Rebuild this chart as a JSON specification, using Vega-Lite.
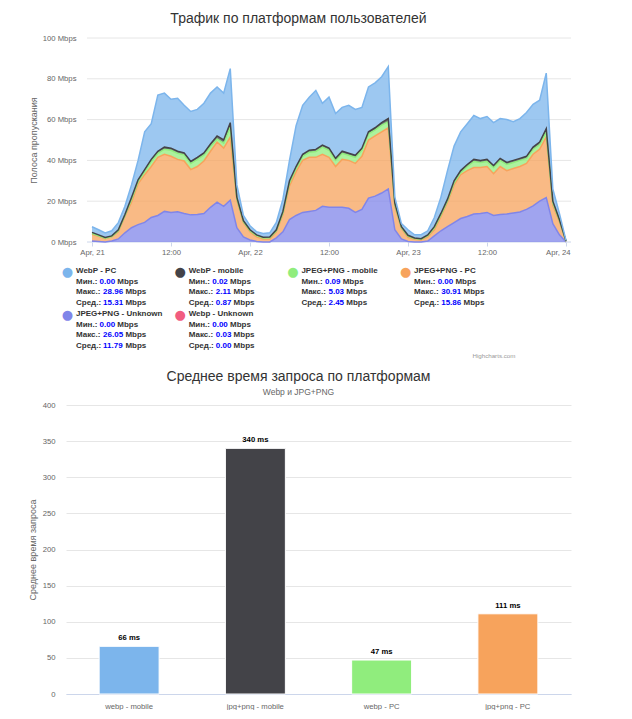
{
"$schema": "https://vega.github.io/schema/vega-lite/v6.json",
"background": "white",
"padding": {"left": 28, "top": 12, "right": 5, "bottom": 0},
"spacing": 9,
"resolve": {"scale": {"color": "independent"}},
"config": {
  "font": "Liberation Sans",
  "view": {"stroke": null},
  "axis": {"labelFont": "Liberation Sans", "labelFontSize": 7.7, "labelColor": "#666666", "titleFont": "Liberation Sans", "titleFontSize": 9, "titleColor": "#666666", "titleFontWeight": "normal", "gridColor": "#e6e6e6"},
  "title": {"font": "Liberation Sans", "color": "#333333", "fontWeight": "normal"}
},
"datasets": {
"traffic": [
{"h":0,"s":"s5","v":0.5},{"h":0,"s":"s4","v":3.3},{"h":0,"s":"s3","v":0.4},{"h":0,"s":"s2","v":0.5},{"h":0,"s":"s1","v":2.8},
{"h":1,"s":"s5","v":0.3},{"h":1,"s":"s4","v":2.5},{"h":1,"s":"s3","v":0.3},{"h":1,"s":"s2","v":0.4},{"h":1,"s":"s1","v":2.5},
{"h":2,"s":"s5","v":0},{"h":2,"s":"s4","v":1.6},{"h":2,"s":"s3","v":0.3},{"h":2,"s":"s2","v":0.3},{"h":2,"s":"s1","v":2.2},
{"h":3,"s":"s5","v":0.5},{"h":3,"s":"s4","v":2},{"h":3,"s":"s3","v":0.2},{"h":3,"s":"s2","v":0.3},{"h":3,"s":"s1","v":2.5},
{"h":4,"s":"s5","v":1.5},{"h":4,"s":"s4","v":3.5},{"h":4,"s":"s3","v":0.5},{"h":4,"s":"s2","v":0.5},{"h":4,"s":"s1","v":3.5},
{"h":5,"s":"s5","v":4.5},{"h":5,"s":"s4","v":8},{"h":5,"s":"s3","v":0.5},{"h":5,"s":"s2","v":0.5},{"h":5,"s":"s1","v":4},
{"h":6,"s":"s5","v":7},{"h":6,"s":"s4","v":12.5},{"h":6,"s":"s3","v":1.3},{"h":6,"s":"s2","v":1},{"h":6,"s":"s1","v":6.2},
{"h":7,"s":"s5","v":8.5},{"h":7,"s":"s4","v":20},{"h":7,"s":"s3","v":1.2},{"h":7,"s":"s2","v":0.8},{"h":7,"s":"s1","v":9.5},
{"h":8,"s":"s5","v":9.6},{"h":8,"s":"s4","v":23.4},{"h":8,"s":"s3","v":1.5},{"h":8,"s":"s2","v":1},{"h":8,"s":"s1","v":18.5},
{"h":9,"s":"s5","v":12},{"h":9,"s":"s4","v":25},{"h":9,"s":"s3","v":2.5},{"h":9,"s":"s2","v":1},{"h":9,"s":"s1","v":17.5},
{"h":10,"s":"s5","v":13},{"h":10,"s":"s4","v":28.5},{"h":10,"s":"s3","v":2},{"h":10,"s":"s2","v":1},{"h":10,"s":"s1","v":27.5},
{"h":11,"s":"s5","v":15},{"h":11,"s":"s4","v":28},{"h":11,"s":"s3","v":2.5},{"h":11,"s":"s2","v":1},{"h":11,"s":"s1","v":26.5},
{"h":12,"s":"s5","v":14.5},{"h":12,"s":"s4","v":27.5},{"h":12,"s":"s3","v":3},{"h":12,"s":"s2","v":1},{"h":12,"s":"s1","v":24},
{"h":13,"s":"s5","v":14.8},{"h":13,"s":"s4","v":25.7},{"h":13,"s":"s3","v":3},{"h":13,"s":"s2","v":1},{"h":13,"s":"s1","v":26},
{"h":14,"s":"s5","v":14},{"h":14,"s":"s4","v":25.7},{"h":14,"s":"s3","v":3},{"h":14,"s":"s2","v":1},{"h":14,"s":"s1","v":23.3},
{"h":15,"s":"s5","v":13.3},{"h":15,"s":"s4","v":22.2},{"h":15,"s":"s3","v":3},{"h":15,"s":"s2","v":1},{"h":15,"s":"s1","v":24.5},
{"h":16,"s":"s5","v":13.5},{"h":16,"s":"s4","v":23.5},{"h":16,"s":"s3","v":3.5},{"h":16,"s":"s2","v":1},{"h":16,"s":"s1","v":23.5},
{"h":17,"s":"s5","v":14},{"h":17,"s":"s4","v":25.7},{"h":17,"s":"s3","v":3},{"h":17,"s":"s2","v":1},{"h":17,"s":"s1","v":24.3},
{"h":18,"s":"s5","v":17},{"h":18,"s":"s4","v":27.5},{"h":18,"s":"s3","v":2.5},{"h":18,"s":"s2","v":1},{"h":18,"s":"s1","v":25},
{"h":19,"s":"s5","v":19.5},{"h":19,"s":"s4","v":29.5},{"h":19,"s":"s3","v":1.5},{"h":19,"s":"s2","v":1.5},{"h":19,"s":"s1","v":24},
{"h":20,"s":"s5","v":17.5},{"h":20,"s":"s4","v":28.5},{"h":20,"s":"s3","v":2.5},{"h":20,"s":"s2","v":1.5},{"h":20,"s":"s1","v":23},
{"h":21,"s":"s5","v":20.5},{"h":21,"s":"s4","v":30.9},{"h":21,"s":"s3","v":5},{"h":21,"s":"s2","v":2.1},{"h":21,"s":"s1","v":26.5},
{"h":22,"s":"s5","v":7},{"h":22,"s":"s4","v":13.5},{"h":22,"s":"s3","v":0.8},{"h":22,"s":"s2","v":0.7},{"h":22,"s":"s1","v":6},
{"h":23,"s":"s5","v":2.5},{"h":23,"s":"s4","v":7},{"h":23,"s":"s3","v":0.5},{"h":23,"s":"s2","v":0.5},{"h":23,"s":"s1","v":2.5},
{"h":24,"s":"s5","v":1},{"h":24,"s":"s4","v":4},{"h":24,"s":"s3","v":0.5},{"h":24,"s":"s2","v":0.5},{"h":24,"s":"s1","v":2},
{"h":25,"s":"s5","v":0.3},{"h":25,"s":"s4","v":2.2},{"h":25,"s":"s3","v":0.6},{"h":25,"s":"s2","v":0.4},{"h":25,"s":"s1","v":1.5},
{"h":26,"s":"s5","v":0},{"h":26,"s":"s4","v":1.5},{"h":26,"s":"s3","v":0.5},{"h":26,"s":"s2","v":0.3},{"h":26,"s":"s1","v":1.9},
{"h":27,"s":"s5","v":0},{"h":27,"s":"s4","v":1.5},{"h":27,"s":"s3","v":0.6},{"h":27,"s":"s2","v":0.4},{"h":27,"s":"s1","v":2},
{"h":28,"s":"s5","v":2},{"h":28,"s":"s4","v":3},{"h":28,"s":"s3","v":0.5},{"h":28,"s":"s2","v":0.5},{"h":28,"s":"s1","v":3.6},
{"h":29,"s":"s5","v":5},{"h":29,"s":"s4","v":8.5},{"h":29,"s":"s3","v":0.8},{"h":29,"s":"s2","v":0.7},{"h":29,"s":"s1","v":6},
{"h":30,"s":"s5","v":11},{"h":30,"s":"s4","v":16.5},{"h":30,"s":"s3","v":1.5},{"h":30,"s":"s2","v":1},{"h":30,"s":"s1","v":10},
{"h":31,"s":"s5","v":13},{"h":31,"s":"s4","v":21.5},{"h":31,"s":"s3","v":1.5},{"h":31,"s":"s2","v":1},{"h":31,"s":"s1","v":20},
{"h":32,"s":"s5","v":14.5},{"h":32,"s":"s4","v":25.5},{"h":32,"s":"s3","v":2},{"h":32,"s":"s2","v":1},{"h":32,"s":"s1","v":24},
{"h":33,"s":"s5","v":15},{"h":33,"s":"s4","v":26.5},{"h":33,"s":"s3","v":2.5},{"h":33,"s":"s2","v":1},{"h":33,"s":"s1","v":26},
{"h":34,"s":"s5","v":15.5},{"h":34,"s":"s4","v":26},{"h":34,"s":"s3","v":2.9},{"h":34,"s":"s2","v":1},{"h":34,"s":"s1","v":28.9},
{"h":35,"s":"s5","v":17.5},{"h":35,"s":"s4","v":25.5},{"h":35,"s":"s3","v":3.5},{"h":35,"s":"s2","v":1},{"h":35,"s":"s1","v":20.5},
{"h":36,"s":"s5","v":17},{"h":36,"s":"s4","v":24.5},{"h":36,"s":"s3","v":3.5},{"h":36,"s":"s2","v":1},{"h":36,"s":"s1","v":25},
{"h":37,"s":"s5","v":17},{"h":37,"s":"s4","v":20},{"h":37,"s":"s3","v":3},{"h":37,"s":"s2","v":1},{"h":37,"s":"s1","v":22},
{"h":38,"s":"s5","v":17},{"h":38,"s":"s4","v":23.5},{"h":38,"s":"s3","v":3},{"h":38,"s":"s2","v":1},{"h":38,"s":"s1","v":21.5},
{"h":39,"s":"s5","v":16.5},{"h":39,"s":"s4","v":23.5},{"h":39,"s":"s3","v":2.5},{"h":39,"s":"s2","v":1},{"h":39,"s":"s1","v":23.5},
{"h":40,"s":"s5","v":14.5},{"h":40,"s":"s4","v":24},{"h":40,"s":"s3","v":3},{"h":40,"s":"s2","v":1},{"h":40,"s":"s1","v":22.5},
{"h":41,"s":"s5","v":16},{"h":41,"s":"s4","v":26},{"h":41,"s":"s3","v":3},{"h":41,"s":"s2","v":1},{"h":41,"s":"s1","v":20},
{"h":42,"s":"s5","v":21.5},{"h":42,"s":"s4","v":28.5},{"h":42,"s":"s3","v":3},{"h":42,"s":"s2","v":1},{"h":42,"s":"s1","v":22},
{"h":43,"s":"s5","v":22.5},{"h":43,"s":"s4","v":29.5},{"h":43,"s":"s3","v":3},{"h":43,"s":"s2","v":1},{"h":43,"s":"s1","v":22},
{"h":44,"s":"s5","v":24},{"h":44,"s":"s4","v":30},{"h":44,"s":"s3","v":3.3},{"h":44,"s":"s2","v":1.2},{"h":44,"s":"s1","v":22.5},
{"h":45,"s":"s5","v":26},{"h":45,"s":"s4","v":30},{"h":45,"s":"s3","v":3},{"h":45,"s":"s2","v":1.5},{"h":45,"s":"s1","v":25.5},
{"h":46,"s":"s5","v":6},{"h":46,"s":"s4","v":11.5},{"h":46,"s":"s3","v":0.8},{"h":46,"s":"s2","v":0.7},{"h":46,"s":"s1","v":3},
{"h":47,"s":"s5","v":1.5},{"h":47,"s":"s4","v":5},{"h":47,"s":"s3","v":0.5},{"h":47,"s":"s2","v":0.5},{"h":47,"s":"s1","v":1.5},
{"h":48,"s":"s5","v":0.3},{"h":48,"s":"s4","v":2},{"h":48,"s":"s3","v":0.6},{"h":48,"s":"s2","v":0.4},{"h":48,"s":"s1","v":2.7},
{"h":49,"s":"s5","v":0},{"h":49,"s":"s4","v":1.3},{"h":49,"s":"s3","v":0.4},{"h":49,"s":"s2","v":0.3},{"h":49,"s":"s1","v":1.5},
{"h":50,"s":"s5","v":0},{"h":50,"s":"s4","v":1},{"h":50,"s":"s3","v":0.3},{"h":50,"s":"s2","v":0.3},{"h":50,"s":"s1","v":2},
{"h":51,"s":"s5","v":0.5},{"h":51,"s":"s4","v":2},{"h":51,"s":"s3","v":0.6},{"h":51,"s":"s2","v":0.4},{"h":51,"s":"s1","v":2},
{"h":52,"s":"s5","v":3},{"h":52,"s":"s4","v":3},{"h":52,"s":"s3","v":0.9},{"h":52,"s":"s2","v":0.6},{"h":52,"s":"s1","v":4.5},
{"h":53,"s":"s5","v":5.5},{"h":53,"s":"s4","v":7},{"h":53,"s":"s3","v":0.8},{"h":53,"s":"s2","v":0.7},{"h":53,"s":"s1","v":8},
{"h":54,"s":"s5","v":7.5},{"h":54,"s":"s4","v":12},{"h":54,"s":"s3","v":0.7},{"h":54,"s":"s2","v":0.8},{"h":54,"s":"s1","v":14},
{"h":55,"s":"s5","v":9.5},{"h":55,"s":"s4","v":18.5},{"h":55,"s":"s3","v":1},{"h":55,"s":"s2","v":1},{"h":55,"s":"s1","v":17},
{"h":56,"s":"s5","v":11.5},{"h":56,"s":"s4","v":21.5},{"h":56,"s":"s3","v":1},{"h":56,"s":"s2","v":1},{"h":56,"s":"s1","v":19},
{"h":57,"s":"s5","v":12.5},{"h":57,"s":"s4","v":22.5},{"h":57,"s":"s3","v":2},{"h":57,"s":"s2","v":1},{"h":57,"s":"s1","v":20},
{"h":58,"s":"s5","v":13.7},{"h":58,"s":"s4","v":22.8},{"h":58,"s":"s3","v":3},{"h":58,"s":"s2","v":1},{"h":58,"s":"s1","v":21.5},
{"h":59,"s":"s5","v":14},{"h":59,"s":"s4","v":22.5},{"h":59,"s":"s3","v":2.5},{"h":59,"s":"s2","v":1},{"h":59,"s":"s1","v":20.5},
{"h":60,"s":"s5","v":14.5},{"h":60,"s":"s4","v":22.5},{"h":60,"s":"s3","v":2.5},{"h":60,"s":"s2","v":1},{"h":60,"s":"s1","v":21},
{"h":61,"s":"s5","v":13},{"h":61,"s":"s4","v":20.5},{"h":61,"s":"s3","v":3},{"h":61,"s":"s2","v":1},{"h":61,"s":"s1","v":21},
{"h":62,"s":"s5","v":13.5},{"h":62,"s":"s4","v":23.5},{"h":62,"s":"s3","v":3},{"h":62,"s":"s2","v":1},{"h":62,"s":"s1","v":19.5},
{"h":63,"s":"s5","v":13.7},{"h":63,"s":"s4","v":21.3},{"h":63,"s":"s3","v":3},{"h":63,"s":"s2","v":1},{"h":63,"s":"s1","v":21},
{"h":64,"s":"s5","v":14.2},{"h":64,"s":"s4","v":21.8},{"h":64,"s":"s3","v":3},{"h":64,"s":"s2","v":1},{"h":64,"s":"s1","v":19},
{"h":65,"s":"s5","v":14.7},{"h":65,"s":"s4","v":22.3},{"h":65,"s":"s3","v":3},{"h":65,"s":"s2","v":1},{"h":65,"s":"s1","v":19.5},
{"h":66,"s":"s5","v":16},{"h":66,"s":"s4","v":22.5},{"h":66,"s":"s3","v":2.5},{"h":66,"s":"s2","v":1},{"h":66,"s":"s1","v":21.5},
{"h":67,"s":"s5","v":17.7},{"h":67,"s":"s4","v":25.3},{"h":67,"s":"s3","v":2.5},{"h":67,"s":"s2","v":1},{"h":67,"s":"s1","v":21},
{"h":68,"s":"s5","v":20},{"h":68,"s":"s4","v":25.5},{"h":68,"s":"s3","v":2.3},{"h":68,"s":"s2","v":1.2},{"h":68,"s":"s1","v":20.5},
{"h":69,"s":"s5","v":21.8},{"h":69,"s":"s4","v":29.7},{"h":69,"s":"s3","v":2.5},{"h":69,"s":"s2","v":1.5},{"h":69,"s":"s1","v":27.3},
{"h":70,"s":"s5","v":9},{"h":70,"s":"s4","v":9},{"h":70,"s":"s3","v":1.2},{"h":70,"s":"s2","v":0.8},{"h":70,"s":"s1","v":6},
{"h":71,"s":"s5","v":3.5},{"h":71,"s":"s4","v":6.5},{"h":71,"s":"s3","v":0.5},{"h":71,"s":"s2","v":0.5},{"h":71,"s":"s1","v":3},
{"h":72,"s":"s5","v":0},{"h":72,"s":"s4","v":0.3},{"h":72,"s":"s3","v":0.1},{"h":72,"s":"s2","v":0.1},{"h":72,"s":"s1","v":0.3}
],
"leg": [
{"s":"WebP - PC","st":"name","lab":"WebP - PC","val":""},
{"s":"WebP - PC","st":"min","lab":"Мин.:","val":"0.00"},
{"s":"WebP - PC","st":"max","lab":"Макс.:","val":"28.96"},
{"s":"WebP - PC","st":"avg","lab":"Сред.:","val":"15.31"},
{"s":"WebP - mobile","st":"name","lab":"WebP - mobile","val":""},
{"s":"WebP - mobile","st":"min","lab":"Мин.:","val":"0.02"},
{"s":"WebP - mobile","st":"max","lab":"Макс.:","val":"2.11"},
{"s":"WebP - mobile","st":"avg","lab":"Сред.:","val":"0.87"},
{"s":"JPEG+PNG - mobile","st":"name","lab":"JPEG+PNG - mobile","val":""},
{"s":"JPEG+PNG - mobile","st":"min","lab":"Мин.:","val":"0.09"},
{"s":"JPEG+PNG - mobile","st":"max","lab":"Макс.:","val":"5.03"},
{"s":"JPEG+PNG - mobile","st":"avg","lab":"Сред.:","val":"2.45"},
{"s":"JPEG+PNG - PC","st":"name","lab":"JPEG+PNG - PC","val":""},
{"s":"JPEG+PNG - PC","st":"min","lab":"Мин.:","val":"0.00"},
{"s":"JPEG+PNG - PC","st":"max","lab":"Макс.:","val":"30.91"},
{"s":"JPEG+PNG - PC","st":"avg","lab":"Сред.:","val":"15.86"},
{"s":"JPEG+PNG - Unknown","st":"name","lab":"JPEG+PNG - Unknown","val":""},
{"s":"JPEG+PNG - Unknown","st":"min","lab":"Мин.:","val":"0.00"},
{"s":"JPEG+PNG - Unknown","st":"max","lab":"Макс.:","val":"26.05"},
{"s":"JPEG+PNG - Unknown","st":"avg","lab":"Сред.:","val":"11.79"},
{"s":"Webp - Unknown","st":"name","lab":"Webp - Unknown","val":""},
{"s":"Webp - Unknown","st":"min","lab":"Мин.:","val":"0.00"},
{"s":"Webp - Unknown","st":"max","lab":"Макс.:","val":"0.03"},
{"s":"Webp - Unknown","st":"avg","lab":"Сред.:","val":"0.00"}
],
"latency": [
{"p":"webp - mobile","ms":66,"label":"66 ms"},
{"p":"jpg+png - mobile","ms":340,"label":"340 ms"},
{"p":"webp - PC","ms":47,"label":"47 ms"},
{"p":"jpg+png - PC","ms":111,"label":"111 ms"}
]
},
"vconcat": [
{
  "width": 505,
  "height": 204,
  "title": {"text": "Трафик по платформам пользователей", "fontSize": 14, "anchor": "middle", "frame": "group", "dx": -20, "offset": 8},
  "layer": [
    {"data": {"values": [{"g": 20}, {"g": 40}, {"g": 60}, {"g": 80}, {"g": 100}]},
     "mark": {"type": "rule", "color": "#e6e6e6", "strokeWidth": 1},
     "encoding": {
       "y": {"field": "g", "type": "quantitative", "scale": {"domain": [0, 100], "nice": false},
         "axis": {"title": "Полоса пропускания", "values": [0, 20, 40, 60, 80, 100], "labelExpr": "datum.value + ' Mbps'", "grid": false, "domain": false, "ticks": false, "labelPadding": -10, "titlePadding": 4}},
       "x": {"datum": -0.76, "type": "quantitative"},
       "x2": {"datum": 72.76}}},
    {"data": {"values": [{"g": 0}]},
     "mark": {"type": "rule", "color": "#ccd6eb", "strokeWidth": 1},
     "encoding": {
       "y": {"field": "g", "type": "quantitative",
         "axis": {"title": "Полоса пропускания", "values": [0, 20, 40, 60, 80, 100], "labelExpr": "datum.value + ' Mbps'", "grid": false, "domain": false, "ticks": false, "labelPadding": -10, "titlePadding": 4}},
       "x": {"datum": -0.76, "type": "quantitative"},
       "x2": {"datum": 72.76}}},
    {"data": {"name": "traffic"},
     "mark": {"type": "area", "fillOpacity": 0.75, "interpolate": "linear", "line": {"strokeWidth": 1.5}},
     "encoding": {
       "x": {"field": "h", "type": "quantitative",
         "scale": {"domain": [-3.95, 72.76], "nice": false, "zero": false},
         "axis": {"title": null, "grid": false, "domain": false, "values": [0, 12, 24, 36, 48, 60, 72], "labelExpr": "datum.value % 24 == 12 ? '12:00' : 'Apr, ' + (21 + datum.value / 24)", "tickColor": "#ccd6eb", "tickSize": 4, "labelPadding": 2, "labelFlush": 6, "labelFlushOffset": 4, "labelOverlap": false}},
       "y": {"field": "v", "type": "quantitative", "stack": "zero",
         "axis": {"title": "Полоса пропускания", "values": [0, 20, 40, 60, 80, 100], "labelExpr": "datum.value + ' Mbps'", "grid": false, "domain": false, "ticks": false, "labelPadding": -10, "titlePadding": 4}},
       "color": {"field": "s", "type": "nominal",
         "scale": {"domain": ["s1", "s2", "s3", "s4", "s5"], "range": ["#7cb5ec", "#434348", "#90ed7d", "#f7a35c", "#8085e9"]},
         "legend": null}
     }}
  ]
},
{
  "spacing": 0,
  "resolve": {"scale": {"x": "independent", "color": "independent"}},
  "vconcat": [
    {
      "data": {"name": "leg"},
      "transform": [{"filter": {"field": "s", "oneOf": ["WebP - PC", "WebP - mobile", "JPEG+PNG - mobile", "JPEG+PNG - PC"]}}],
      "width": 450.8,
      "height": 42,
      "encoding": {
        "x": {"field": "s", "type": "nominal", "scale": {"domain": ["WebP - PC", "WebP - mobile", "JPEG+PNG - mobile", "JPEG+PNG - PC"], "paddingInner": 0, "paddingOuter": 0}, "axis": null},
        "y": {"field": "st", "type": "nominal", "scale": {"type": "point", "domain": ["name", "min", "max", "avg"], "padding": 0.5}, "axis": null}
      },
      "layer": [
        {"transform": [{"filter": "datum.st == 'name'"}],
         "mark": {"type": "text", "align": "center", "baseline": "middle", "dx": -54.85, "dy": 0.5, "font": "DejaVu Sans", "fontSize": 13},
         "encoding": {"text": {"value": "●"}, "color": {"field": "s", "type": "nominal", "legend": null,
           "scale": {"domain": ["WebP - PC", "WebP - mobile", "JPEG+PNG - mobile", "JPEG+PNG - PC", "JPEG+PNG - Unknown", "Webp - Unknown"], "range": ["#7cb5ec", "#434348", "#90ed7d", "#f7a35c", "#8085e9", "#f15c80"]}}}},
        {"mark": {"type": "text", "align": "left", "baseline": "middle", "dx": -46.35, "fontSize": 8, "fontWeight": "bold", "color": "#333333"},
         "encoding": {"text": {"field": "lab"}}},
        {"transform": [{"filter": "datum.st == 'min'"}],
         "mark": {"type": "text", "align": "left", "baseline": "middle", "dx": -22.8, "fontSize": 8, "fontWeight": "bold", "color": "#0000ff"},
         "encoding": {"text": {"field": "val"}}},
        {"transform": [{"filter": "datum.st == 'max' || datum.st == 'avg'"}],
         "mark": {"type": "text", "align": "left", "baseline": "middle", "dx": -19.25, "fontSize": 8, "fontWeight": "bold", "color": "#0000ff"},
         "encoding": {"text": {"field": "val"}}},
        {"transform": [{"filter": "datum.st == 'min'"}],
         "mark": {"type": "text", "align": "left", "baseline": "middle", "dx": -5.05, "fontSize": 8, "fontWeight": "bold", "color": "#333333"},
         "encoding": {"text": {"value": "Mbps"}}},
        {"transform": [{"filter": "(datum.st == 'max' || datum.st == 'avg') && length(datum.val) == 4"}],
         "mark": {"type": "text", "align": "left", "baseline": "middle", "dx": -1.45, "fontSize": 8, "fontWeight": "bold", "color": "#333333"},
         "encoding": {"text": {"value": "Mbps"}}},
        {"transform": [{"filter": "(datum.st == 'max' || datum.st == 'avg') && length(datum.val) == 5"}],
         "mark": {"type": "text", "align": "left", "baseline": "middle", "dx": 3.05, "fontSize": 8, "fontWeight": "bold", "color": "#333333"},
         "encoding": {"text": {"value": "Mbps"}}}
      ]
    },
    {
      "data": {"name": "leg"},
      "transform": [{"filter": {"field": "s", "oneOf": ["JPEG+PNG - Unknown", "Webp - Unknown"]}}],
      "width": 225.4,
      "height": 42,
      "title": {"text": "Highcharts.com", "orient": "bottom", "anchor": "end", "fontSize": 6.2, "color": "#999999", "offset": 2, "dx": 224},
      "encoding": {
        "x": {"field": "s", "type": "nominal", "scale": {"domain": ["JPEG+PNG - Unknown", "Webp - Unknown"], "paddingInner": 0, "paddingOuter": 0}, "axis": null},
        "y": {"field": "st", "type": "nominal", "scale": {"type": "point", "domain": ["name", "min", "max", "avg"], "padding": 0.5}, "axis": null}
      },
      "layer": [
        {"transform": [{"filter": "datum.st == 'name'"}],
         "mark": {"type": "text", "align": "center", "baseline": "middle", "dx": -54.85, "dy": 0.5, "font": "DejaVu Sans", "fontSize": 13},
         "encoding": {"text": {"value": "●"}, "color": {"field": "s", "type": "nominal", "legend": null,
           "scale": {"domain": ["WebP - PC", "WebP - mobile", "JPEG+PNG - mobile", "JPEG+PNG - PC", "JPEG+PNG - Unknown", "Webp - Unknown"], "range": ["#7cb5ec", "#434348", "#90ed7d", "#f7a35c", "#8085e9", "#f15c80"]}}}},
        {"mark": {"type": "text", "align": "left", "baseline": "middle", "dx": -46.35, "fontSize": 8, "fontWeight": "bold", "color": "#333333"},
         "encoding": {"text": {"field": "lab"}}},
        {"transform": [{"filter": "datum.st == 'min'"}],
         "mark": {"type": "text", "align": "left", "baseline": "middle", "dx": -22.8, "fontSize": 8, "fontWeight": "bold", "color": "#0000ff"},
         "encoding": {"text": {"field": "val"}}},
        {"transform": [{"filter": "datum.st == 'max' || datum.st == 'avg'"}],
         "mark": {"type": "text", "align": "left", "baseline": "middle", "dx": -19.25, "fontSize": 8, "fontWeight": "bold", "color": "#0000ff"},
         "encoding": {"text": {"field": "val"}}},
        {"transform": [{"filter": "datum.st == 'min'"}],
         "mark": {"type": "text", "align": "left", "baseline": "middle", "dx": -5.05, "fontSize": 8, "fontWeight": "bold", "color": "#333333"},
         "encoding": {"text": {"value": "Mbps"}}},
        {"transform": [{"filter": "(datum.st == 'max' || datum.st == 'avg') && length(datum.val) == 4"}],
         "mark": {"type": "text", "align": "left", "baseline": "middle", "dx": -1.45, "fontSize": 8, "fontWeight": "bold", "color": "#333333"},
         "encoding": {"text": {"value": "Mbps"}}},
        {"transform": [{"filter": "(datum.st == 'max' || datum.st == 'avg') && length(datum.val) == 5"}],
         "mark": {"type": "text", "align": "left", "baseline": "middle", "dx": 3.05, "fontSize": 8, "fontWeight": "bold", "color": "#333333"},
         "encoding": {"text": {"value": "Mbps"}}}
      ]
    }
  ]
},
{
  "width": 505,
  "height": 289,
  "title": {"text": "Среднее время запроса по платформам", "subtitle": "Webp и JPG+PNG", "fontSize": 14, "subtitleFontSize": 8.5, "subtitleColor": "#666666", "subtitlePadding": 4, "anchor": "middle", "frame": "group", "dx": -20, "offset": 5},
  "data": {"name": "latency"},
  "encoding": {
    "x": {"field": "p", "type": "nominal", "sort": null,
      "scale": {"paddingInner": 0.525, "paddingOuter": 0.2625},
      "axis": {"title": null, "labelAngle": 0, "domainColor": "#ccd6eb", "ticks": false, "labelPadding": 8}},
    "y": {"field": "ms", "type": "quantitative",
      "scale": {"domain": [0, 400], "nice": false},
      "axis": {"title": "Среднее время запроса", "values": [0, 50, 100, 150, 200, 250, 300, 350, 400], "grid": true, "domain": false, "ticks": false, "labelPadding": 11, "titlePadding": 5}}
  },
  "layer": [
    {"mark": {"type": "bar", "stroke": "white", "strokeWidth": 1},
     "encoding": {"color": {"field": "p", "type": "nominal", "legend": null,
       "scale": {"domain": ["webp - mobile", "jpg+png - mobile", "webp - PC", "jpg+png - PC"], "range": ["#7cb5ec", "#434348", "#90ed7d", "#f7a35c"]}}}},
    {"mark": {"type": "text", "baseline": "bottom", "dy": -4, "fontSize": 7.7, "fontWeight": "bold", "color": "#000000"},
     "encoding": {"text": {"field": "label"}}}
  ]
}
]
}
